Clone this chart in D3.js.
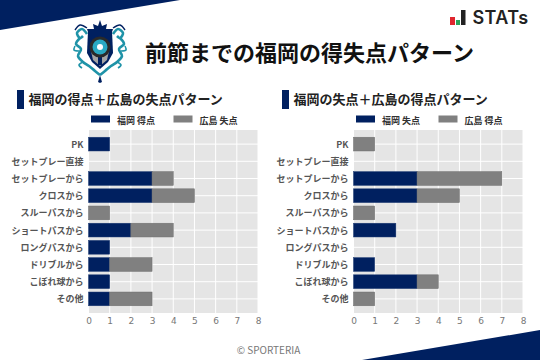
<!DOCTYPE html>
<html>
<head>
<meta charset="utf-8">
<script src="https://cdn.jsdelivr.net/npm/d3@7"></script>
<style>
  html, body { margin: 0; padding: 0; background: #fff; }
  text { font-family: "Noto Sans CJK JP", "Noto Sans", sans-serif; }
  /* keeps text antialiasing grey, no coloured fringes */
  #chart { opacity: 0.999; }
</style>
</head>
<body>
<svg id="chart" width="540" height="360"></svg>
<script>
const categories = ["PK", "セットプレー直接", "セットプレーから", "クロスから", "スルーパスから",
  "ショートパスから", "ロングパスから", "ドリブルから", "こぼれ球から", "その他"];
const xTicks = [0, 1, 2, 3, 4, 5, 6, 7, 8];

const leftFukuoka = [1, 0, 3, 3, 0, 2, 1, 1, 1, 1];
const leftHiroshima = [0, 0, 1, 2, 1, 2, 0, 2, 0, 2];
const rightFukuoka = [0, 0, 3, 3, 0, 2, 0, 1, 3, 0];
const rightHiroshima = [1, 0, 4, 2, 1, 0, 0, 0, 1, 1];

const navy = "#002060";
const grey = "#808080";
const teal = "#1f93a8";

const svg = d3.select("#chart");

// Corner wedges
svg.append("path").attr("d", d3.line()([[0, 0], [180, 0], [0, 30]])).attr("fill", navy);
svg.append("path").attr("d", d3.line()([[540, 330], [540, 360], [362, 360]])).attr("fill", navy);

// Title
svg.append("text")
  .attr("x", 145).attr("y", 61)
  .style("font-size", "22px").style("font-weight", 700).attr("fill", "#111")
  .text("前節までの福岡の得失点パターン");

// STATs logo
const logo = svg.append("g");
[[450, 17, 5, 8, "#e0262e"], [456, 20, 4, 5, "#2aa35a"], [461, 10, 4.5, 15, "#222"]].forEach(b => {
  logo.append("rect").attr("x", b[0]).attr("y", b[1]).attr("width", b[2]).attr("height", b[3]).attr("fill", b[4]);
});
logo.append("text")
  .attr("x", 472.5).attr("y", 24)
  .style("font-family", "Inter").style("font-size", "18px").style("font-weight", 600)
  .attr("fill", "#222").attr("letter-spacing", "0.4")
  .text("STATs");

// Crest, rough hand-made shape centred on the ball
const crest = svg.append("g").attr("transform", "translate(100,47)");
const curve = d3.line().curve(d3.curveCatmullRom);
[1, -1].forEach(side => {
  const sc = crest.append("g").attr("transform", `scale(${side},1)`);
  sc.append("path").attr("fill", "none").attr("stroke", teal).attr("stroke-width", 2.6)
    .attr("d", curve([[13, -13], [18, -18], [23, -14], [20, -9], [17, -11]]));
  sc.append("path").attr("fill", "none").attr("stroke", teal).attr("stroke-width", 2.6)
    .attr("d", curve([[20, -9], [24, -3], [19, 2], [22, 9], [17, 15], [11, 19], [5, 24], [0, 28]]));
  sc.append("path").attr("fill", "none").attr("stroke", navy).attr("stroke-width", 1.4)
    .attr("d", curve([[13, -19], [20, -22], [25, -17]]));
  sc.append("path").attr("fill", "none").attr("stroke", teal).attr("stroke-width", 1.6)
    .attr("d", curve([[21, 4], [26, 3], [25, -1]]));
  sc.append("path").attr("fill", "none").attr("stroke", teal).attr("stroke-width", 1.6)
    .attr("d", curve([[17, 15], [21, 18], [18, 21]]));
});
// crown
crest.append("path").attr("fill", navy)
  .attr("d", d3.line()([[0, -27], [2, -21], [7, -23], [6, -18], [13, -18], [12, -15], [-12, -15], [-13, -18], [-6, -18], [-7, -23], [-2, -21]]));
// shield
crest.append("path").attr("fill", navy)
  .attr("d", d3.line()([[-12, -16], [12, -16], [13, 6], [8, 15], [0, 22], [-8, 15], [-13, 6]]));
crest.append("path").attr("fill", "#a4a4a4")
  .attr("d", d3.line()([[-9, 4], [9, 4], [7, 13], [0, 19], [-7, 13]]));
crest.append("rect").attr("x", -2).attr("y", 4).attr("width", 4).attr("height", 14).attr("fill", navy);
crest.append("path").attr("d", d3.line()([[0, 28], [2, 35], [0, 36], [-2, 35]])).attr("fill", navy);
// ball
crest.append("circle").attr("r", 10.5).attr("fill", "#2a2a2a");
crest.append("circle").attr("r", 7.5).attr("fill", "#29a9c2");
crest.append("circle").attr("r", 3).attr("fill", "#fff");

// Footer
svg.append("text")
  .attr("x", 268.5).attr("y", 354)
  .attr("text-anchor", "middle")
  .style("font-size", "10px").attr("fill", "#777")
  .text("© SPORTERIA");

function panel(cfg) {
  const g = svg.append("g");

  const x = d3.scaleLinear().domain([0, 8]).range([cfg.left, cfg.left + 169.5]);
  const y = d3.scaleBand().domain(categories).range([130, 313]).paddingInner(0.2).paddingOuter(0.42);

  // Heading
  g.append("rect").attr("x", cfg.left - 71.5).attr("y", 90).attr("width", 7).attr("height", 19).attr("fill", navy);
  g.append("text")
    .attr("x", cfg.left - 60).attr("y", 104)
    .style("font-size", "13px").style("font-weight", 700).attr("fill", "#222")
    .text(cfg.heading);

  // Legend
  cfg.legend.forEach((label, i) => {
    const lx = cfg.left + 2.5 + i * 82.5;
    g.append("rect").attr("x", lx).attr("y", 115.5).attr("width", 19).attr("height", 7)
      .attr("fill", i === 0 ? navy : grey);
    g.append("text")
      .attr("x", lx + 26).attr("y", 123.5)
      .style("font-size", "9px").style("font-weight", 700).attr("fill", "#333")
      .text(label);
  });

  // Plot background and grid
  g.append("rect")
    .attr("x", x.range()[0]).attr("y", y.range()[0])
    .attr("width", x.range()[1] - x.range()[0]).attr("height", y.range()[1] - y.range()[0])
    .attr("fill", "#e5e5e5");
  g.append("g").selectAll("line").data(xTicks).join("line")
    .attr("x1", d => x(d)).attr("x2", d => x(d))
    .attr("y1", y.range()[0]).attr("y2", y.range()[1])
    .attr("stroke", "#fff").attr("stroke-width", 1);
  g.append("g").selectAll("line").data(categories).join("line")
    .attr("x1", x.range()[0]).attr("x2", x.range()[1])
    .attr("y1", d => y(d) + y.bandwidth() / 2).attr("y2", d => y(d) + y.bandwidth() / 2)
    .attr("stroke", "#fff").attr("stroke-width", 1);

  // Stacked bars
  const rows = categories.map((c, i) => ({ category: c, home: cfg.home[i], away: cfg.away[i] }));
  const stacked = d3.stack().keys(["home", "away"])(rows);
  const colors = { home: navy, away: grey };
  const edges = { home: "#1d3a72", away: "#6f6f6f" };
  g.append("g").selectAll("g").data(stacked).join("g")
    .attr("fill", d => colors[d.key])
    .attr("stroke", d => edges[d.key])
    .attr("stroke-width", 0.5)
    .selectAll("rect")
    .data(d => d.filter(s => s[1] > s[0]))
    .join("rect")
    .attr("x", d => x(d[0]))
    .attr("y", d => y(d.data.category))
    .attr("width", d => x(d[1]) - x(d[0]))
    .attr("height", y.bandwidth());

  // Axes
  const xAxis = g.append("g")
    .attr("transform", `translate(0,${y.range()[1]})`)
    .call(d3.axisBottom(x).tickValues(xTicks).tickSize(0).tickPadding(5));
  xAxis.select(".domain").remove();
  xAxis.selectAll("text").style("font-family", "DejaVu Sans").style("font-size", "9px").attr("fill", "#777");

  const yAxis = g.append("g")
    .attr("transform", `translate(${cfg.left},0)`)
    .call(d3.axisLeft(y).tickSize(0).tickPadding(5));
  yAxis.select(".domain").remove();
  yAxis.selectAll("text").attr("y", 0.7).style("font-size", "9px").style("font-weight", 700).attr("fill", "#555");
}

panel({
  left: 88.5,
  heading: "福岡の得点＋広島の失点パターン",
  legend: ["福岡 得点", "広島 失点"],
  home: leftFukuoka,
  away: leftHiroshima
});
panel({
  left: 353.5,
  heading: "福岡の失点＋広島の得点パターン",
  legend: ["福岡 失点", "広島 得点"],
  home: rightFukuoka,
  away: rightHiroshima
});
</script>
</body>
</html>
